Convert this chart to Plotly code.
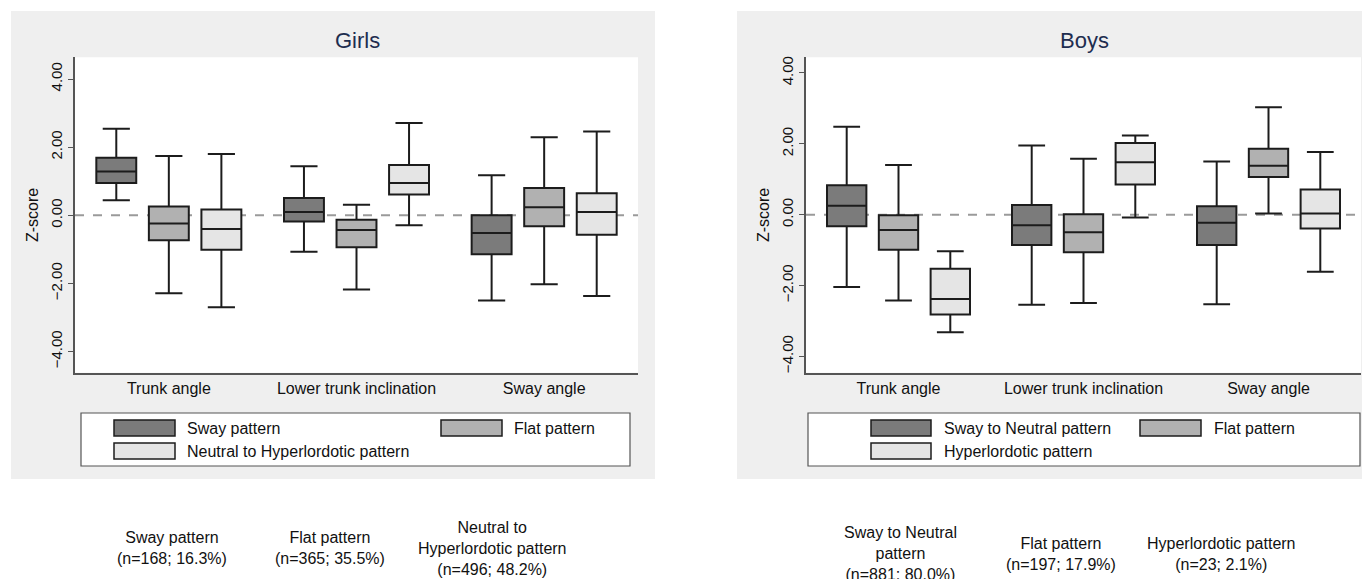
import plotly.graph_objects as go

# page offset: the browser body has an 8px margin
OFF = 8
W, H = 1370 - OFF, 579 - OFF

categories = ["Trunk angle", "Lower trunk inclination", "Sway angle"]

# Girls: per pattern, per category
girls_names = ["Sway pattern", "Flat pattern", "Neutral to Hyperlordotic pattern"]
girls_sway_low = [0.44, -1.07, -2.50]
girls_sway_q1 = [0.95, -0.18, -1.14]
girls_sway_med = [1.29, 0.10, -0.52]
girls_sway_q3 = [1.69, 0.51, 0.00]
girls_sway_high = [2.54, 1.44, 1.18]

girls_flat_low = [-2.29, -2.18, -2.02]
girls_flat_q1 = [-0.73, -0.94, -0.32]
girls_flat_med = [-0.24, -0.43, 0.24]
girls_flat_q3 = [0.26, -0.13, 0.80]
girls_flat_high = [1.74, 0.31, 2.29]

girls_neut_low = [-2.70, -0.29, -2.37]
girls_neut_q1 = [-1.01, 0.61, -0.57]
girls_neut_med = [-0.40, 0.95, 0.10]
girls_neut_q3 = [0.17, 1.48, 0.65]
girls_neut_high = [1.80, 2.71, 2.46]

# Boys
boys_names = ["Sway to Neutral pattern", "Flat pattern", "Hyperlordotic pattern"]
boys_sway_low = [-2.04, -2.54, -2.53]
boys_sway_q1 = [-0.33, -0.86, -0.86]
boys_sway_med = [0.25, -0.30, -0.23]
boys_sway_q3 = [0.83, 0.27, 0.24]
boys_sway_high = [2.48, 1.95, 1.50]

boys_flat_low = [-2.42, -2.49, 0.03]
boys_flat_q1 = [-0.99, -1.06, 1.06]
boys_flat_med = [-0.43, -0.50, 1.38]
boys_flat_q3 = [-0.02, 0.01, 1.86]
boys_flat_high = [1.40, 1.58, 3.03]

boys_hyp_low = [-3.32, -0.08, -1.61]
boys_hyp_q1 = [-2.82, 0.85, -0.39]
boys_hyp_med = [-2.38, 1.48, 0.03]
boys_hyp_q3 = [-1.53, 2.02, 0.71]
boys_hyp_high = [-1.03, 2.23, 1.77]

girls_counts = ["Sway pattern<br>(n=168; 16.3%)",
                "Flat pattern<br>(n=365; 35.5%)",
                "Neutral to<br>Hyperlordotic pattern<br>(n=496; 48.2%)"]
boys_counts = ["Sway to Neutral<br>pattern<br>(n=881; 80.0%)",
               "Flat pattern<br>(n=197; 17.9%)",
               "Hyperlordotic pattern<br>(n=23; 2.1%)"]

y_ticks = [-4, -2, 0, 2, 4]

fills = ["#7b7b7b", "#b1b1b1", "#e5e5e5"]
LINE = "#1c1c1c"
FONT = "Liberation Sans, Arial, sans-serif"


def fx(p):
    return (p - OFF) / W


def fy(p):
    return 1 - (p - OFF) / H


fig = go.Figure()

girls_sets = [
    (girls_sway_low, girls_sway_q1, girls_sway_med, girls_sway_q3, girls_sway_high),
    (girls_flat_low, girls_flat_q1, girls_flat_med, girls_flat_q3, girls_flat_high),
    (girls_neut_low, girls_neut_q1, girls_neut_med, girls_neut_q3, girls_neut_high),
]
boys_sets = [
    (boys_sway_low, boys_sway_q1, boys_sway_med, boys_sway_q3, boys_sway_high),
    (boys_flat_low, boys_flat_q1, boys_flat_med, boys_flat_q3, boys_flat_high),
    (boys_hyp_low, boys_hyp_q1, boys_hyp_med, boys_hyp_q3, boys_hyp_high),
]

for sets, names, xa, ya in [(girls_sets, girls_names, "x", "y"), (boys_sets, boys_names, "x2", "y2")]:
    for i, (lo, q1, md, q3, hi) in enumerate(sets):
        fig.add_trace(go.Box(
            x=categories, lowerfence=lo, q1=q1, median=md, q3=q3, upperfence=hi,
            name=names[i], fillcolor=fills[i], line=dict(color=LINE, width=2),
            whiskerwidth=0.68, boxpoints=False, showlegend=False,
            offsetgroup=str(i), xaxis=xa, yaxis=ya, hoverinfo="skip",
        ))

shapes = []
# gray panels
for x0, x1 in [(11, 655), (737, 1380)]:
    shapes.append(dict(type="rect", xref="paper", yref="paper", x0=fx(x0), x1=fx(x1),
                       y0=fy(479), y1=fy(11), fillcolor="#efefef", line=dict(width=0), layer="below"))
# white plot areas and zero lines
for xr, yr in [("x", "y"), ("x2", "y2")]:
    shapes.append(dict(type="rect", xref=f"{xr} domain", yref=f"{yr} domain", x0=0, x1=1, y0=0, y1=1,
                       fillcolor="white", line=dict(width=0), layer="below"))
    shapes.append(dict(type="line", xref=f"{xr} domain", yref=yr, x0=0, x1=1, y0=0, y1=0,
                       line=dict(color="#9a9a9a", width=2, dash="dash"), layer="below"))

annotations = []
# legends
legend_specs = [
    (81, 630, girls_names, [(114, 175, 420, 436, 185), (441, 502, 420, 436, 512), (114, 175, 443, 459, 185)]),
    (808, 1360, boys_names, [(871, 931, 420, 436, 942), (1140, 1201, 420, 436, 1212), (871, 931, 443, 459, 942)]),
]
for bx0, bx1, names, items in legend_specs:
    shapes.append(dict(type="rect", xref="paper", yref="paper", x0=fx(bx0), x1=fx(bx1),
                       y0=fy(466), y1=fy(413), fillcolor="white", line=dict(color="#555555", width=1.2)))
    for i, (sx0, sx1, sy0, sy1, tx) in enumerate(items):
        shapes.append(dict(type="rect", xref="paper", yref="paper", x0=fx(sx0), x1=fx(sx1),
                           y0=fy(sy1), y1=fy(sy0), fillcolor=fills[i], line=dict(color=LINE, width=1.5)))
        annotations.append(dict(xref="paper", yref="paper", x=fx(tx), y=fy((sy0 + sy1) / 2),
                                text=names[i], showarrow=False, xanchor="left", yanchor="middle",
                                font=dict(family=FONT, size=16, color="#111111")))

# titles
for txt, cx in [("Girls", 357), ("Boys", 1084)]:
    annotations.append(dict(xref="paper", yref="paper", x=fx(cx), y=fy(41), text=txt, showarrow=False,
                            xanchor="center", yanchor="middle",
                            font=dict(family=FONT, size=22, color="#1e2d4f")))

# bottom counts
for txt, cx, cy in zip(girls_counts, [172, 330, 492], [547.5, 547.5, 548]):
    annotations.append(dict(xref="paper", yref="paper", x=fx(cx), y=fy(cy), text=txt, showarrow=False,
                            xanchor="center", yanchor="middle", align="center",
                            font=dict(family=FONT, size=16, color="#111111")))
for txt, cx, cy in zip(boys_counts, [900, 1061, 1221], [553.5, 553.5, 553.5]):
    annotations.append(dict(xref="paper", yref="paper", x=fx(cx), y=fy(cy), text=txt, showarrow=False,
                            xanchor="center", yanchor="middle", align="center",
                            font=dict(family=FONT, size=16, color="#111111")))

xaxis_common = dict(type="category", categoryorder="array", categoryarray=categories,
                    showline=True, linecolor="#555555", linewidth=1.5, ticks="", showgrid=False,
                    zeroline=False, tickfont=dict(family=FONT, size=16, color="#111111"),
                    range=[-0.5, 2.5])
yaxis_common = dict(showline=True, linecolor="#555555", linewidth=1.5, ticks="outside", ticklen=5,
                    tickcolor="#555555", tickvals=y_ticks, tickformat=".2f", tickangle=-90,
                    showgrid=False, zeroline=False,
                    tickfont=dict(family=FONT, size=15, color="#111111"),
                    title=dict(text="Z-score", font=dict(family=FONT, size=16, color="#111111"), standoff=6))

fig.update_layout(
    width=W, height=H,
    margin=dict(l=0, r=0, t=0, b=0),
    paper_bgcolor="white", plot_bgcolor="white",
    boxmode="group", boxgap=0.16, boxgroupgap=0.24,
    showlegend=False,
    xaxis=dict(domain=[fx(75), fx(638)], anchor="y", **xaxis_common),
    yaxis=dict(domain=[fy(372.7), fy(57.3)], anchor="x", range=[-4.62, 4.64], **yaxis_common),
    xaxis2=dict(domain=[fx(806), min(1.0, fx(1361))], anchor="y2", **xaxis_common),
    yaxis2=dict(domain=[fy(372.7), fy(57.3)], anchor="x2", range=[-4.46, 4.44], **yaxis_common),
    shapes=shapes,
    annotations=annotations,
)

fig.write_html("out.html")
